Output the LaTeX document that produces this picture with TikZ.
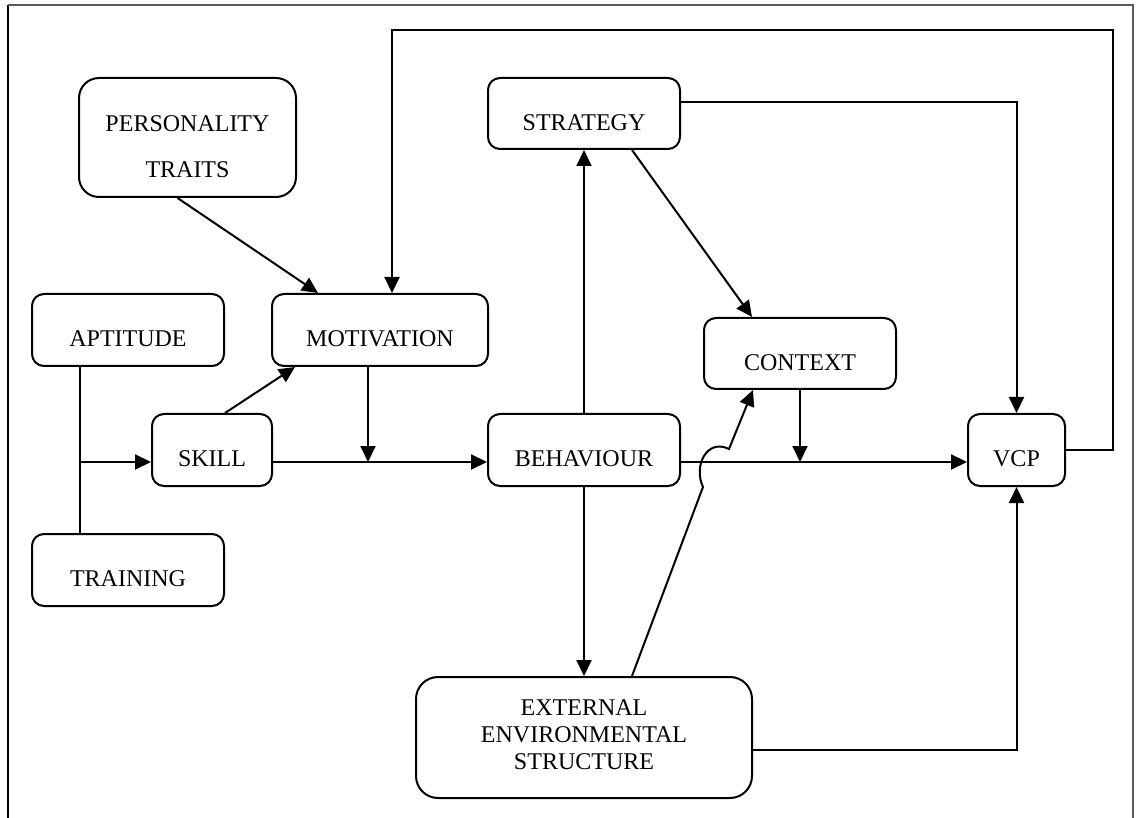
\documentclass[tikz,border=0pt]{standalone}
\usepackage{fontspec}
\setmainfont{Liberation Serif}
\usetikzlibrary{arrows.meta}
% strut that lowers a single line of capitals below the box centre
\newcommand{\capstrut}{\rule{0pt}{34pt}}
\begin{document}
\begin{tikzpicture}[x=1pt,y=-1pt,
  box/.style={draw, line width=2pt, rounded corners=12pt, inner sep=0pt,
              align=center, font=\fontsize{24}{27}\selectfont},
  link/.style={line width=2pt},
  arrow/.style={link, -{Triangle[length=16pt,width=15pt]}},
  frameline/.style={line width=1.5pt},
]
\useasboundingbox (0,0) rectangle (1136,818);

% open page frame
\draw[frameline, black, line width=2.2pt] (8,818) -- (8,5);
\draw[frameline, black!65] (8,5) -- (1133,5) -- (1133,818);

% boxes
\node[box, minimum width=217pt, minimum height=119pt, rounded corners=20pt] (pers) at (187.5,137.5)
  {\rule{0pt}{35pt}PERSONALITY\\[19pt]TRAITS};
\node[box, minimum width=192pt, minimum height=72pt] (apt) at (128,330) {\capstrut APTITUDE};
\node[box, minimum width=216pt, minimum height=72pt] (mot) at (380,330) {\capstrut MOTIVATION};
\node[box, minimum width=120pt, minimum height=72pt] (skill) at (212,450) {\capstrut SKILL};
\node[box, minimum width=192pt, minimum height=72pt] (trn) at (128,570) {\capstrut TRAINING};
\node[box, minimum width=192pt, minimum height=71pt] (str) at (584,113.5) {\capstrut STRATEGY};
\node[box, minimum width=192pt, minimum height=71pt] (ctx) at (800,353.5) {\capstrut CONTEXT};
\node[box, minimum width=192pt, minimum height=72pt] (beh) at (584,450) {\capstrut BEHAVIOUR};
\node[box, minimum width=97pt, minimum height=72pt] (vcp) at (1016.5,450) {\capstrut VCP};
\node[box, minimum width=336pt, minimum height=121pt, rounded corners=22pt] (ext) at (584,737.5)
  {EXTERNAL\\ENVIRONMENTAL\\STRUCTURE\rule[-5pt]{0pt}{5pt}};

% junction points on the lines
\coordinate (aptline) at (80,462);
\coordinate (motjoin) at (368,462);
\coordinate (ctxjoin) at (800,462);
\coordinate (loopcorner) at (1113,30);
\coordinate (hopA) at (703,487);
\coordinate (hopB) at (729,449);

% aptitude and training feed skill
\draw[link] ([xshift=-48pt]apt.south) -- ([xshift=-48pt]trn.north);
\draw[arrow] (aptline) -- ([yshift=-12pt]skill.west);

% influences on motivation
\draw[arrow] ([xshift=-10pt]pers.south) -- ([xshift=-62pt]mot.north);
\draw[arrow] ([xshift=13pt]skill.north) -- ([xshift=-85pt]mot.south);
\draw[arrow] (vcp.east) -| (loopcorner) -| ([xshift=12pt]mot.north);

% main chain towards behaviour and vcp
\draw[arrow] ([yshift=-12pt]skill.east) -- ([yshift=-12pt]beh.west);
\draw[arrow] ([xshift=-12pt]mot.south) -- (motjoin);
\draw[arrow] ([yshift=-12pt]beh.east) -- ([yshift=-12pt]vcp.west);
\draw[arrow] (ctx.south) -- (ctxjoin);

% behaviour, strategy and environment
\draw[arrow] (beh.north) -- (str.south);
\draw[arrow] (beh.south) -- (ext.north);
\draw[arrow] ([xshift=48pt]str.south) -- ([xshift=-48pt]ctx.north);
\draw[arrow] ([yshift=11.5pt]str.east) -| (vcp.north);
\draw[arrow] ([yshift=-12.5pt]ext.east) -| (vcp.south);

% environment to context, hopping over the behaviour line
\draw[arrow] ([xshift=48pt]ext.north) -- (hopA)
  .. controls (693,466) and (707,438) .. (hopB) -- ([xshift=-47pt]ctx.south);
\end{tikzpicture}
\end{document}
